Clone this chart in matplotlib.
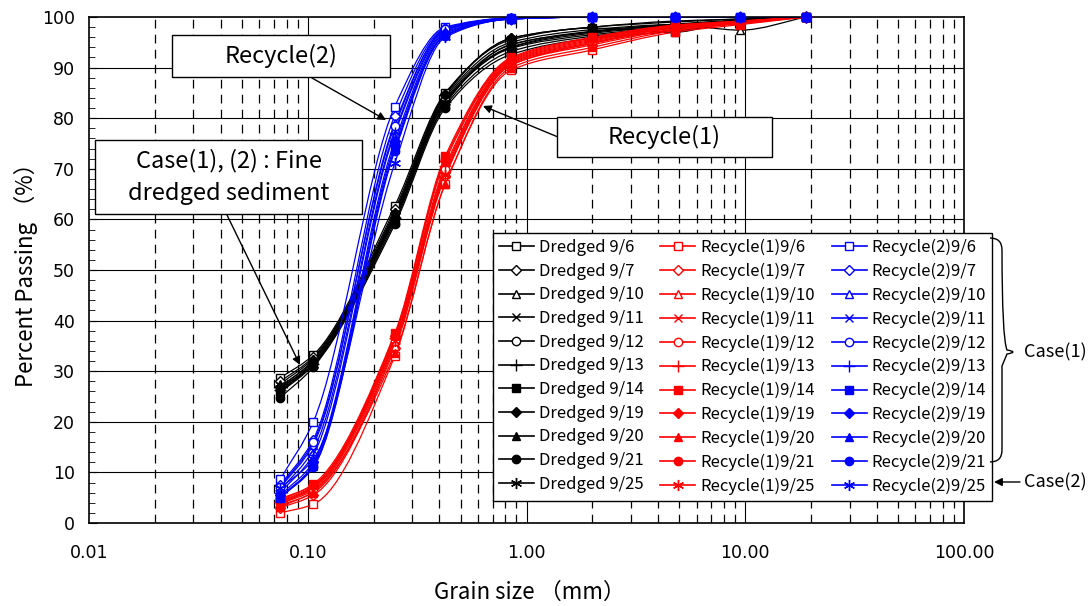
import numpy as np
import matplotlib
matplotlib.use('Agg')
from matplotlib import pyplot as plt
from matplotlib.path import Path
from matplotlib.patches import PathPatch, Rectangle
from matplotlib.lines import Line2D
from matplotlib.ticker import FixedLocator, MultipleLocator, NullFormatter

plt.rcParams['font.family'] = ['Noto Sans CJK JP', 'DejaVu Sans']

# sieve sizes (mm)
sizes = [0.075, 0.106, 0.25, 0.425, 0.85, 2.0, 4.75, 9.5, 19.0]
dates = ['9/6', '9/7', '9/10', '9/11', '9/12', '9/13', '9/14', '9/19', '9/20', '9/21', '9/25']

dredged = [
    [28.7, 33.2, 62.7, 85.0, 95.5, 97.8, 97.0, 99.5, 100],
    [28.0, 32.8, 62.0, 84.8, 95.8, 98.0, 99.0, 99.6, 100],
    [27.5, 32.5, 61.5, 84.2, 95.0, 97.5, 98.5, 97.4, 100],
    [27.0, 32.0, 61.0, 83.8, 94.5, 97.2, 98.6, 99.4, 100],
    [26.5, 31.8, 60.5, 83.5, 94.0, 96.8, 98.2, 99.3, 100],
    [26.2, 31.5, 60.2, 83.2, 93.8, 96.5, 98.0, 99.2, 100],
    [25.8, 31.2, 59.5, 82.5, 93.2, 96.2, 97.8, 99.0, 100],
    [26.8, 32.2, 61.2, 84.5, 95.8, 98.0, 99.2, 99.6, 100],
    [26.0, 31.4, 60.0, 82.8, 94.6, 97.0, 98.4, 99.3, 100],
    [24.8, 30.8, 59.0, 82.0, 92.6, 95.8, 97.2, 99.0, 100],
    [26.7, 31.3, 60.9, 83.3, 94.1, 97.1, 98.5, 99.3, 100],
]
recycle1 = [
    [2.0, 3.7, 33.0, 67.0, 89.5, 93.5, 97.0, 98.5, 100],
    [3.0, 5.5, 34.5, 68.5, 90.5, 94.5, 97.5, 98.8, 100],
    [3.5, 6.0, 35.0, 69.0, 90.8, 94.8, 97.6, 98.9, 100],
    [3.8, 6.5, 35.5, 69.5, 91.0, 95.0, 97.8, 99.0, 100],
    [4.0, 6.8, 36.0, 70.0, 91.2, 95.2, 98.0, 99.0, 100],
    [4.2, 7.0, 36.5, 70.5, 91.4, 95.4, 98.1, 99.1, 100],
    [4.5, 7.7, 37.5, 72.5, 92.0, 96.0, 98.4, 99.2, 100],
    [4.3, 7.3, 37.0, 71.5, 91.6, 95.6, 98.2, 99.1, 100],
    [3.2, 6.2, 33.5, 67.0, 90.0, 94.0, 97.3, 98.7, 100],
    [4.8, 7.5, 37.2, 72.0, 91.8, 95.8, 98.3, 99.2, 100],
    [3.7, 7.2, 36.0, 68.7, 90.5, 94.8, 98.0, 99.0, 100],
]
recycle2 = [
    [8.7, 20.0, 82.3, 98.0, 99.8, 100, 100, 100, 100],
    [7.5, 16.5, 80.5, 97.8, 99.8, 100, 100, 100, 100],
    [7.0, 15.5, 79.0, 97.5, 99.7, 100, 100, 100, 100],
    [6.5, 14.5, 77.5, 97.3, 99.7, 100, 100, 100, 100],
    [7.2, 16.0, 78.5, 97.6, 99.8, 100, 100, 100, 100],
    [6.0, 13.5, 77.0, 97.0, 99.7, 100, 100, 100, 100],
    [5.0, 11.5, 74.7, 96.5, 99.6, 100, 100, 100, 100],
    [5.5, 12.0, 75.5, 96.8, 99.6, 100, 100, 100, 100],
    [5.2, 11.2, 74.0, 96.4, 99.6, 100, 100, 100, 100],
    [5.0, 11.0, 73.5, 96.3, 99.6, 100, 100, 100, 100],
    [6.9, 12.6, 71.1, 96.0, 99.6, 100, 100, 100, 100],
]

groups = [('Dredged ', dredged, 'black'),
          ('Recycle(1)', recycle1, '#ff0000'),
          ('Recycle(2)', recycle2, '#0000ff')]

# marker style per date: (marker, filled, size)
mstyles = [('s', False, 6), ('D', False, 5), ('^', False, 6), ('x', False, 6),
           ('o', False, 6), ('+', False, 8), ('s', True, 6), ('D', True, 5),
           ('^', True, 6), ('o', True, 6), ((6, 2, 0), False, 8)]


def smooth_path(xs, ys):
    # smoothed line drawn as cubic beziers in log-x space (monotone slopes)
    lx = np.log10(xs)
    ys = np.asarray(ys, float)
    n = len(lx)
    h = np.diff(lx)
    dl = np.diff(ys) / h
    m = np.zeros(n)
    m[0], m[-1] = dl[0], dl[-1]
    for i in range(1, n - 1):
        if dl[i - 1] * dl[i] <= 0:
            m[i] = 0
        else:
            w1 = 2 * h[i] + h[i - 1]
            w2 = h[i] + 2 * h[i - 1]
            m[i] = (w1 + w2) / (w1 / dl[i - 1] + w2 / dl[i])
    verts = [(xs[0], ys[0])]
    codes = [Path.MOVETO]
    for i in range(n - 1):
        c1 = (10 ** (lx[i] + h[i] / 3), ys[i] + m[i] * h[i] / 3)
        c2 = (10 ** (lx[i + 1] - h[i] / 3), ys[i + 1] - m[i + 1] * h[i] / 3)
        verts += [c1, c2, (xs[i + 1], ys[i + 1])]
        codes += [Path.CURVE4] * 3
    return Path(verts, codes)


fig = plt.figure(figsize=(10.92, 6.06), dpi=100)
ax = fig.add_axes([89 / 1092, 1 - 523 / 606, 875 / 1092, 506 / 606])
ax.set_xscale('log')
ax.set_xlim(0.01, 100)
ax.set_ylim(0, 100)

# grid
for v in range(10, 100, 10):
    ax.axhline(v, color='black', lw=0.8, zorder=1)
for d in [0.1, 1, 10]:
    ax.axvline(d, color='black', lw=0.8, zorder=1)
for d in [0.01, 0.1, 1, 10]:
    for mm in range(2, 10):
        ax.axvline(d * mm, color='black', lw=0.9, ls=(0, (7, 5)), zorder=1)

handles = {}
for gname, data, col in groups:
    hl = []
    for k, ys in enumerate(data):
        mk, filled, ms = mstyles[k]
        ax.add_patch(PathPatch(smooth_path(sizes, ys), fill=False, edgecolor=col,
                               lw=0.9, zorder=2))
        ax.plot(sizes, ys, ls='none', marker=mk, ms=ms, mec=col,
                mfc=col if filled else 'white', mew=1.0, zorder=3, clip_on=False)
        hl.append(Line2D([], [], color=col, lw=1.2, marker=mk, ms=ms, mec=col,
                         mfc=col if filled else 'white', mew=1.0,
                         label=gname + dates[k]))
    handles[gname] = hl

all_handles = handles['Dredged '] + handles['Recycle(1)'] + handles['Recycle(2)']
leg = ax.legend(handles=all_handles, ncol=3, loc='upper left',
                bbox_to_anchor=(493 / 1092, 1 - 233 / 606), bbox_transform=fig.transFigure,
                fontsize=12, frameon=True, fancybox=False, edgecolor='black',
                framealpha=1, handlelength=2.1, handletextpad=0.3,
                columnspacing=1.0, labelspacing=0.4, borderpad=0.35,
                borderaxespad=0)
leg.get_frame().set_linewidth(1.0)
leg.set_zorder(5)

ax.xaxis.set_major_locator(FixedLocator([0.01, 0.1, 1, 10, 100]))
ax.set_xticklabels(['0.01', '0.10', '1.00', '10.00', '100.00'])
ax.xaxis.set_minor_formatter(NullFormatter())
ax.tick_params(axis='x', which='both', length=0, pad=15, labelsize=12.5)
ax.yaxis.set_major_locator(MultipleLocator(10))
ax.yaxis.set_minor_locator(MultipleLocator(2))
ax.tick_params(axis='y', which='major', direction='in', length=6, labelsize=12.5, pad=10)
ax.tick_params(axis='y', which='minor', direction='in', length=4)
for lab in ax.get_xticklabels() + ax.get_yticklabels():
    lab.set_family(['Liberation Sans Narrow', 'DejaVu Sans'])
for s in ax.spines.values():
    s.set_linewidth(1.2)


def fx(px):
    return px / 1092


def fy(py):
    return 1 - py / 606


fig.text(fx(26), fy(270), 'Percent Passing （%）', rotation=90, ha='center', va='center',
         fontsize=16)
fig.text(fx(530), fy(592), 'Grain size （mm）', ha='center', va='center', fontsize=16)


def box(x0, y0, x1, y1, text):
    fig.patches.append(Rectangle((fx(x0), fy(y1)), fx(x1) - fx(x0), fy(y0) - fy(y1),
                                 transform=fig.transFigure, facecolor='white',
                                 edgecolor='black', lw=1.0, zorder=4))
    fig.text(fx((x0 + x1) / 2), fy((y0 + y1) / 2), text, ha='center', va='center',
             fontsize=17, zorder=5, linespacing=1.5)


def arrow(x0, y0, x1, y1, head=True):
    ax.annotate('', xy=(fx(x1), fy(y1)), xytext=(fx(x0), fy(y0)),
                xycoords='figure fraction', textcoords='figure fraction',
                arrowprops=dict(arrowstyle='-|>' if head else '-', color='black',
                                lw=1.0, shrinkA=0, shrinkB=0, mutation_scale=12),
                annotation_clip=False, zorder=6)


box(172, 35, 390, 77, 'Recycle(2)')
arrow(312, 78, 386, 120)
box(557, 117, 772, 157, 'Recycle(1)')
arrow(558, 137, 483, 106)
box(95, 140, 362, 214, 'Case(1), (2) : Fine\ndredged sediment')
arrow(227, 215, 300, 365)

# brace for Case(1)
bx = [fx(v) for v in [990, 1002, 1002, 1002, 1002, 1007, 1019, 1007, 1002, 1002,
                      1002, 1002, 1002, 990]]
by = [fy(v) for v in [238, 238, 250, 250, 338, 350, 352, 354, 366, 366,
                      450, 450, 462, 462]]
brace = Path(list(zip(bx, by)),
             [Path.MOVETO, Path.CURVE3, Path.CURVE3, Path.LINETO, Path.CURVE3,
              Path.CURVE3, Path.CURVE3, Path.CURVE3, Path.CURVE3, Path.LINETO,
              Path.CURVE3, Path.CURVE3, Path.CURVE3, Path.CURVE3])
fig.patches.append(PathPatch(brace, transform=fig.transFigure, fill=False,
                             edgecolor='black', lw=1.0, zorder=4))
fig.text(fx(1024), fy(352), 'Case(1)', ha='left', va='center', fontsize=13)
fig.text(fx(1024), fy(482), 'Case(2)', ha='left', va='center', fontsize=13)
arrow(1020, 482, 994, 482)

fig.savefig('out.png', dpi=100)
